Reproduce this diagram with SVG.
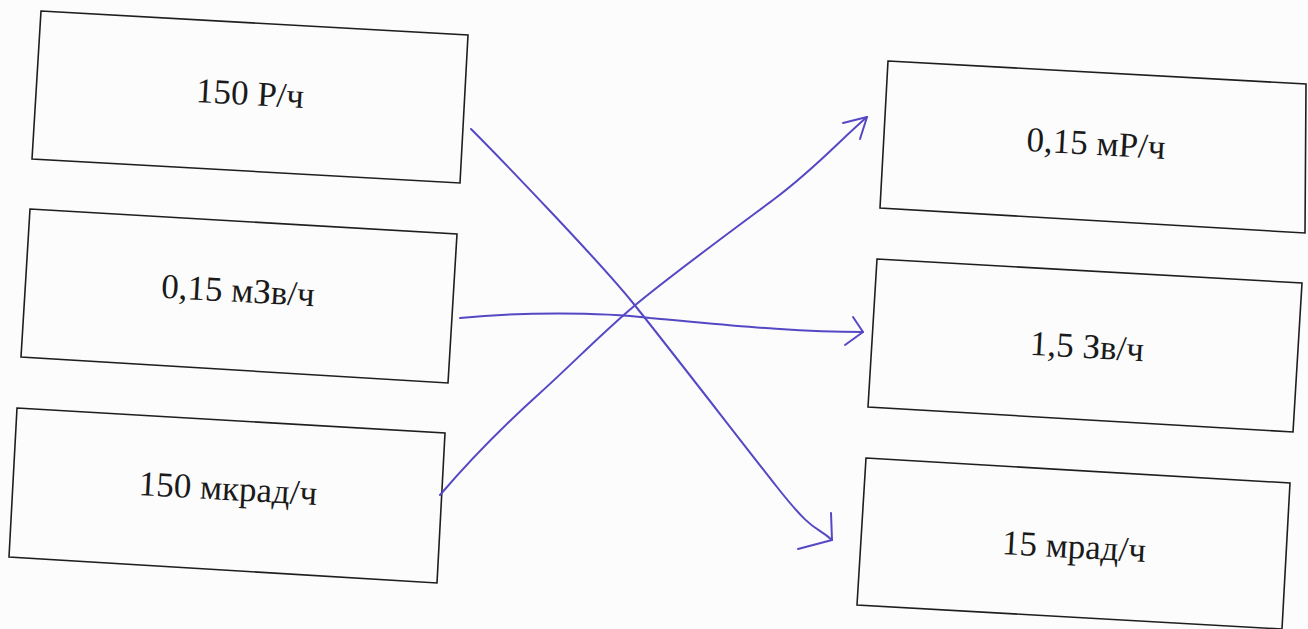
<svg xmlns="http://www.w3.org/2000/svg" width="1308" height="629" viewBox="0 0 1308 629">
<defs>
<style>
.box{fill:none;stroke:#1e1e1e;stroke-width:1.6}
.lbl{font-family:"Liberation Serif","Times New Roman",serif;font-size:35px;fill:#1a1a1a;text-anchor:middle}
.pen{fill:none;stroke:#5548c4;stroke-width:2;stroke-linecap:round;stroke-linejoin:round}
</style>
</defs>
<rect width="1308" height="629" fill="#fcfcfd"/>
<g id="n1"><polygon class="box" points="41,11 468,35 460,183 32,159"/><text class="lbl" x="250" y="105" transform="rotate(3.2 250 95)">150 Р/ч</text></g>
<g id="n2"><polygon class="box" points="30,209 457,234 448,383 21,357"/><text class="lbl" x="238" y="302" transform="rotate(3.2 238 292)">0,15 мЗв/ч</text></g>
<g id="n3"><polygon class="box" points="17,408 445,433 437,583 9,557"/><text class="lbl" x="228" y="500" transform="rotate(3.2 228 490)">150 мкрад/ч</text></g>
<g id="n4"><polygon class="box" points="888,61 1306,84 1305,233 880,208"/><text class="lbl" x="1096" y="155" transform="rotate(3.2 1096 145)">0,15 мР/ч</text></g>
<g id="n5"><polygon class="box" points="877,259 1302,283 1293,432 868,407"/><text class="lbl" x="1087" y="358" transform="rotate(3.2 1087 348)">1,5 Зв/ч</text></g>
<g id="n6"><polygon class="box" points="866,458 1290,483 1282,629 857,605"/><text class="lbl" x="1074" y="558" transform="rotate(3.2 1074 548)">15 мрад/ч</text></g>
<g id="connectors">
<path class="pen" d="M471,129 C500,158 600,262 633,303 S740,440 777,487 S815,525 832,540"/>
<path class="pen" d="M831,513 L832,540 L798,549" stroke-width="2.6"/>
<path class="pen" d="M460,318 C520,312 600,312 650,318 C720,324 790,332 863,332"/>
<path class="pen" d="M853,317 L863,332 L845,345" stroke-width="2.4"/>
<path class="pen" d="M440,495 C470,460 510,420 540,393 S600,335 633,307 S730,232 773,200 S840,140 867,117"/>
<path class="pen" d="M843,123 L867,117 L860,139"/>
</g>
</svg>
